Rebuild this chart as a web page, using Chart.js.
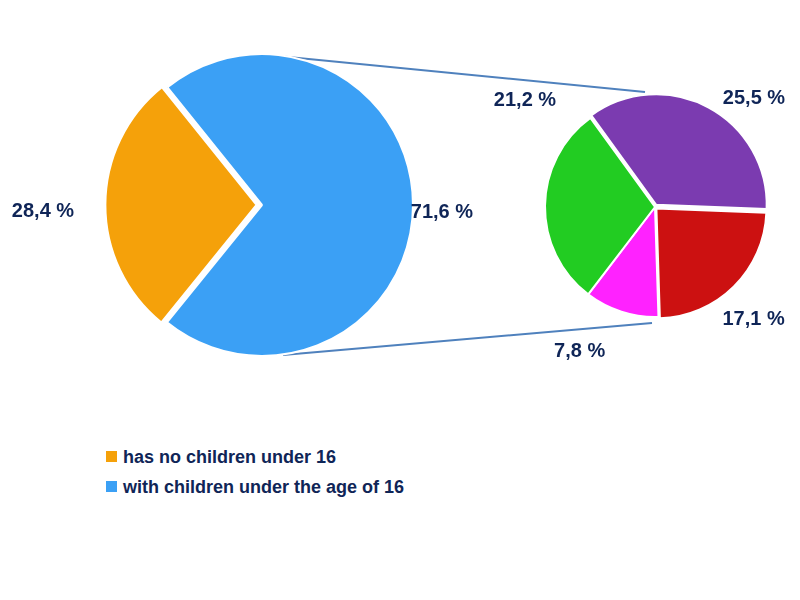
<!DOCTYPE html>
<html>
<head>
<meta charset="utf-8">
<script src="https://cdn.jsdelivr.net/npm/chart.js@4"></script>
<style>
  body { margin: 0; background: #fff; width: 800px; height: 600px; position: relative; overflow: hidden; font-family: "Liberation Sans", Arial, sans-serif; }
  canvas { position: absolute; }
  #lines { position: absolute; left: 0; top: 0; }
  .legend { position: absolute; left: 106px; color: #0F2557; font-weight: bold; font-size: 18px; }
  .legend span { display: inline-block; width: 11px; height: 11px; margin-right: 6px; vertical-align: 1px; }
</style>
</head>
<body>
<svg id="lines" width="800" height="600">
  <line x1="278" y1="56" x2="645" y2="92" stroke="#4F81BD" stroke-width="2"/>
  <line x1="283" y1="355" x2="652" y2="323" stroke="#4F81BD" stroke-width="2"/>
</svg>
<canvas id="mainPie" style="left:0;top:0" width="524" height="410"></canvas>
<canvas id="subPie" style="left:460px;top:0" width="340" height="414"></canvas>
<div class="legend" style="top:447px"><span style="background:#F5A10A"></span>has no children under 16</div>
<div class="legend" style="top:477px"><span style="background:#3BA0F5"></span>with children under the age of 16</div>
<script>
const mainLabels = ["has no children under 16", "with children under the age of 16"];
const mainValues = [28.4, 71.6];
const subLabels = ["group A", "group B", "group C", "group D"];
const subValues = [25.5, 17.1, 7.8, 21.2];

const fmt = v => v.toFixed(1).replace(".", ",") + " %";

// percent labels placed outside each slice (angle from top, distance beyond radius)
const pctLabels = {
  id: "pctLabels",
  afterDatasetsDraw(chart, args, opts) {
    const ctx = chart.ctx;
    const meta = chart.getDatasetMeta(0);
    ctx.save();
    ctx.font = "bold 20px 'Liberation Sans', Arial, sans-serif";
    ctx.fillStyle = "#0F2557";
    ctx.textBaseline = "middle";
    meta.data.forEach((arc, i) => {
      const p = arc.getProps(["x", "y", "startAngle", "endAngle", "outerRadius"], true);
      const a = opts.angles ? (opts.angles[i] - 90) * Math.PI / 180 : (p.startAngle + p.endAngle) / 2;
      const d = p.outerRadius + opts.dist[i];
      const x = p.x + Math.cos(a) * d, y = p.y + Math.sin(a) * d;
      ctx.textAlign = Math.cos(a) < 0 ? "right" : "left";
      ctx.fillText(fmt(chart.data.datasets[0].data[i]), x, y);
    });
    ctx.restore();
  }
};

new Chart(document.getElementById("mainPie"), {
  type: "pie",
  data: {
    labels: mainLabels,
    datasets: [{
      data: mainValues,
      backgroundColor: ["#F5A10A", "#3BA0F5"],
      borderColor: "#fff",
      borderWidth: 2,
      offset: [22, 0]
    }]
  },
  options: {
    responsive: false,
    animation: false,
    rotation: 219,
    layout: { padding: { left: 99, right: 99, top: 42, bottom: 42 } },
    plugins: {
      legend: { display: false },
      tooltip: { enabled: false },
      pctLabels: { angles: [268, 93], dist: [37, -2] }
    }
  },
  plugins: [pctLabels]
});

new Chart(document.getElementById("subPie"), {
  type: "pie",
  data: {
    labels: subLabels,
    datasets: [{
      data: subValues,
      backgroundColor: ["#7B3BB0", "#CC1111", "#FF22FF", "#22CC22"],
      borderColor: "#fff",
      borderWidth: 2,
      offset: [10, 8, 0, 0]
    }]
  },
  options: {
    responsive: false,
    animation: false,
    rotation: -36,
    layout: { padding: { left: 79, right: 29, top: 91, bottom: 91 } },
    plugins: {
      legend: { display: false },
      tooltip: { enabled: false },
      pctLabels: { angles: [32, 149, 199, 317], dist: [18, 21, 43, 35] }
    }
  },
  plugins: [pctLabels]
});
</script>
</body>
</html>
